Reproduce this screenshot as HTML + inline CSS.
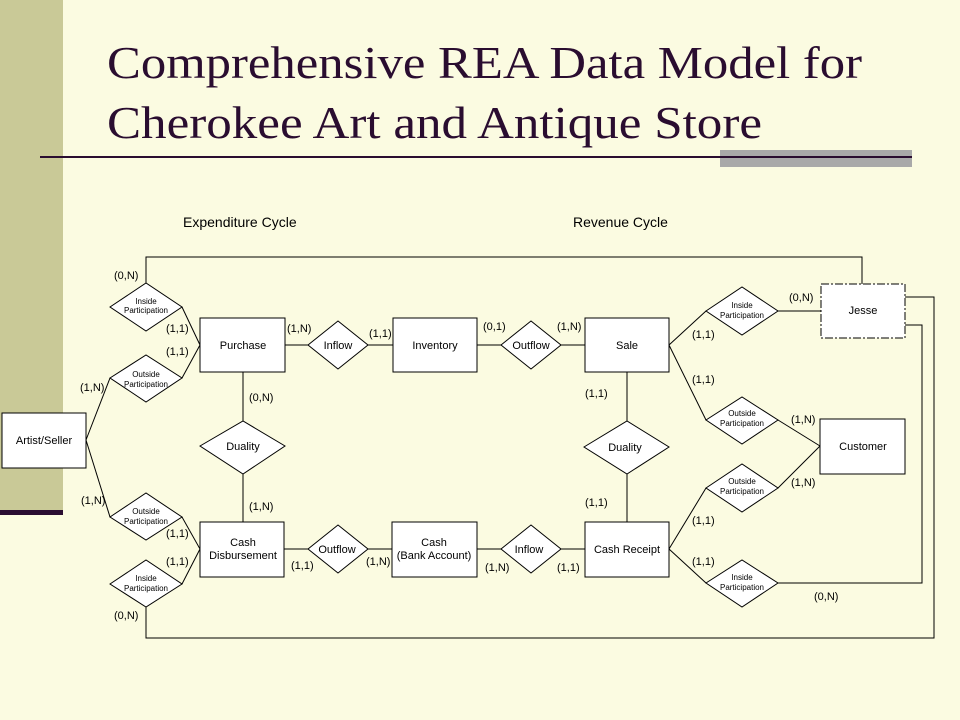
<!DOCTYPE html>
<html><head><meta charset="utf-8"><style>
html,body{margin:0;padding:0;background:#fbfbe1;}
svg{display:block}
text{font-family:"Liberation Sans",Arial,sans-serif;fill:#000}
.t{font-family:"Liberation Serif",serif;fill:#2a0d30;font-size:46px}
.s{font-size:11px}
.xs{font-size:8px}
.c{font-size:11px}
</style></head><body>
<svg width="960" height="720" viewBox="0 0 960 720" xmlns="http://www.w3.org/2000/svg">
<rect width="960" height="720" fill="#fbfbe1"/>
<rect x="0" y="0" width="63" height="510" fill="#c9c997"/>
<rect x="0" y="510" width="63" height="5" fill="#2a0d30"/>
<text class="t" x="107" y="78" textLength="755" lengthAdjust="spacingAndGlyphs">Comprehensive REA Data Model for</text>
<text class="t" x="107" y="138" textLength="655" lengthAdjust="spacingAndGlyphs">Cherokee Art and Antique Store</text>
<rect x="720" y="150" width="192" height="17" fill="#a9a9a9"/>
<line x1="40" y1="157" x2="912" y2="157" stroke="#2a0d30" stroke-width="2"/>
<text x="183" y="227" font-size="14">Expenditure Cycle</text>
<text x="573" y="227" font-size="14">Revenue Cycle</text>

<g fill="none" stroke="#000" stroke-width="1">
<!-- outer loops -->
<polyline points="146,283 146,257 862,257 862,284"/>
<polyline points="146,607 146,638 934,638 934,297 905,297"/>
<polyline points="905,325 922,325 922,583 778,583"/>
<!-- artist links -->
<line x1="86" y1="440" x2="110" y2="378"/>
<line x1="86" y1="440" x2="110" y2="517"/>
<line x1="182" y1="307" x2="200" y2="345"/>
<line x1="182" y1="378" x2="200" y2="345"/>
<line x1="182" y1="517" x2="200" y2="549"/>
<line x1="182" y1="584" x2="200" y2="549"/>
<!-- middle -->
<line x1="285" y1="345" x2="393" y2="345"/>
<line x1="477" y1="345" x2="585" y2="345"/>
<line x1="284" y1="549" x2="392" y2="549"/>
<line x1="477" y1="549" x2="585" y2="549"/>
<line x1="243" y1="372" x2="243" y2="522"/>
<line x1="627" y1="372" x2="627" y2="522"/>
<!-- right -->
<line x1="669" y1="345" x2="706" y2="311"/>
<line x1="669" y1="345" x2="706" y2="420"/>
<line x1="669" y1="549" x2="706" y2="488"/>
<line x1="669" y1="549" x2="706" y2="583"/>
<line x1="778" y1="311" x2="821" y2="311"/>
<line x1="778" y1="420" x2="820" y2="446"/>
<line x1="778" y1="488" x2="820" y2="446"/>
</g>

<g fill="#fff" stroke="#000" stroke-width="1">
<rect x="2" y="413" width="84" height="55"/>
<rect x="200" y="318" width="85" height="54"/>
<rect x="200" y="522" width="84" height="55"/>
<rect x="393" y="318" width="84" height="54"/>
<rect x="392" y="522" width="85" height="55"/>
<rect x="585" y="318" width="84" height="54"/>
<rect x="585" y="522" width="84" height="55"/>
<rect x="821" y="284" width="84" height="54" stroke-dasharray="8,2,2,2"/>
<rect x="820" y="419" width="85" height="55"/>
<!-- diamonds -->
<polygon points="110,307 146,283 182,307 146,331"/>
<polygon points="110,378 146,355 182,378 146,402"/>
<polygon points="110,517 146,493 182,517 146,540"/>
<polygon points="110,584 146,560 182,584 146,607"/>
<polygon points="200,446 243,421 285,446 243,474"/>
<polygon points="584,447 627,421 669,447 627,474"/>
<polygon points="308,345 338,321 368,345 338,369"/>
<polygon points="501,345 531,321 561,345 531,369"/>
<polygon points="308,549 338,525 368,549 338,573"/>
<polygon points="501,549 531,525 561,549 531,573"/>
<polygon points="706,311 742,287 778,311 742,335"/>
<polygon points="706,420 742,397 778,420 742,444"/>
<polygon points="706,488 742,464 778,488 742,512"/>
<polygon points="706,583 742,560 778,583 742,607"/>
</g>

<g text-anchor="middle">
<text class="s" x="44" y="444">Artist/Seller</text>
<text class="s" x="243" y="349">Purchase</text>
<text class="s" x="243" y="546">Cash</text>
<text class="s" x="243" y="559">Disbursement</text>
<text class="s" x="435" y="349">Inventory</text>
<text class="s" x="434" y="546">Cash</text>
<text class="s" x="434" y="559">(Bank Account)</text>
<text class="s" x="627" y="349">Sale</text>
<text class="s" x="627" y="553">Cash Receipt</text>
<text class="s" x="863" y="314">Jesse</text>
<text class="s" x="863" y="450">Customer</text>
<text class="s" x="243" y="450">Duality</text>
<text class="s" x="625" y="451">Duality</text>
<text class="s" x="338" y="349">Inflow</text>
<text class="s" x="531" y="349">Outflow</text>
<text class="s" x="337" y="553">Outflow</text>
<text class="s" x="529" y="553">Inflow</text>
<g class="xs">
<text x="146" y="304">Inside</text><text x="146" y="313">Participation</text>
<text x="146" y="377">Outside</text><text x="146" y="387">Participation</text>
<text x="146" y="514">Outside</text><text x="146" y="524">Participation</text>
<text x="146" y="581">Inside</text><text x="146" y="591">Participation</text>
<text x="742" y="308">Inside</text><text x="742" y="318">Participation</text>
<text x="742" y="416">Outside</text><text x="742" y="426">Participation</text>
<text x="742" y="484">Outside</text><text x="742" y="494">Participation</text>
<text x="742" y="580">Inside</text><text x="742" y="590">Participation</text>
</g>
</g>
<g class="c">
<text x="114" y="279">(0,N)</text>
<text x="166" y="332">(1,1)</text>
<text x="166" y="355">(1,1)</text>
<text x="80" y="391">(1,N)</text>
<text x="81" y="504">(1,N)</text>
<text x="166" y="537">(1,1)</text>
<text x="166" y="565">(1,1)</text>
<text x="114" y="619">(0,N)</text>
<text x="287" y="332">(1,N)</text>
<text x="249" y="401">(0,N)</text>
<text x="249" y="510">(1,N)</text>
<text x="291" y="569">(1,1)</text>
<text x="369" y="337">(1,1)</text>
<text x="366" y="565">(1,N)</text>
<text x="483" y="330">(0,1)</text>
<text x="557" y="330">(1,N)</text>
<text x="485" y="571">(1,N)</text>
<text x="557" y="571">(1,1)</text>
<text x="585" y="397">(1,1)</text>
<text x="585" y="506">(1,1)</text>
<text x="692" y="338">(1,1)</text>
<text x="692" y="383">(1,1)</text>
<text x="692" y="524">(1,1)</text>
<text x="692" y="565">(1,1)</text>
<text x="789" y="301">(0,N)</text>
<text x="791" y="423">(1,N)</text>
<text x="791" y="486">(1,N)</text>
<text x="814" y="600">(0,N)</text>
</g>
</svg>
</body></html>
